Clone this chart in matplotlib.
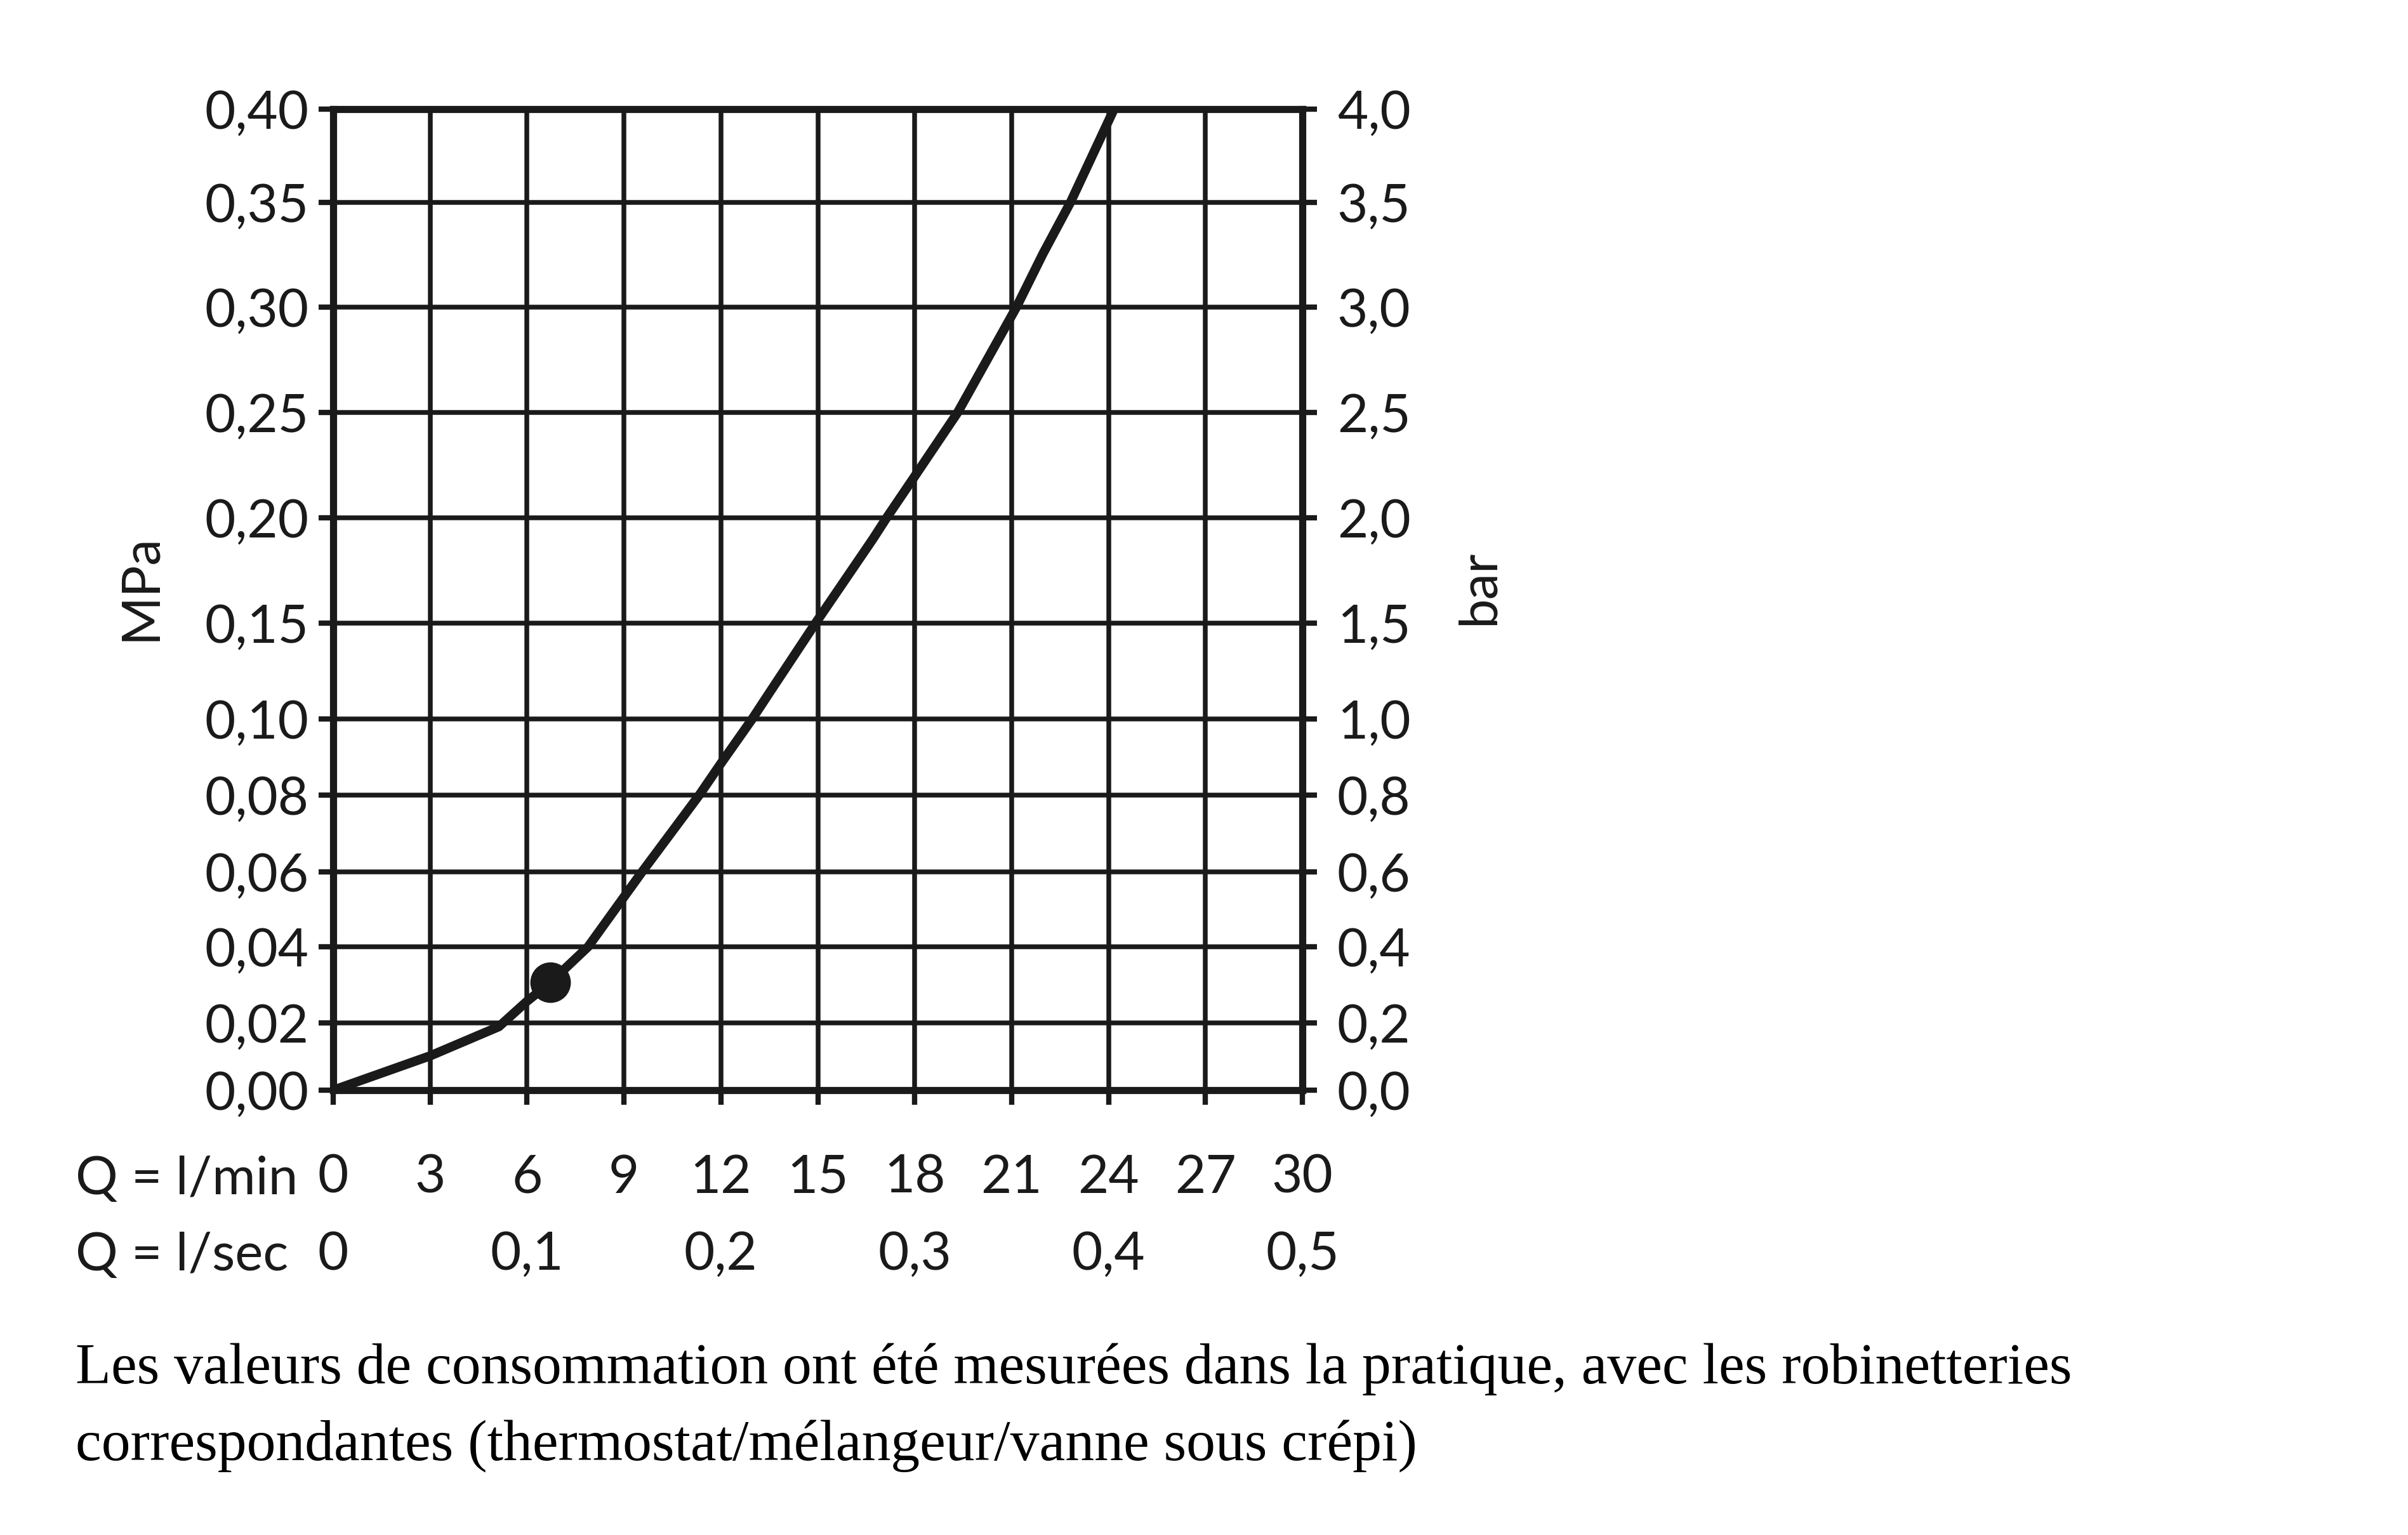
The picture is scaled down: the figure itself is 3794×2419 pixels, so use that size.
import numpy as np
import matplotlib
matplotlib.use("Agg")
import matplotlib.pyplot as plt

# flow (l/min) vs pressure (MPa)
flow_lpm = [0, 3, 5.13, 6.0, 6.72, 7.89, 9.0, 9.56, 10.64, 11.33, 12.0, 12.97, 13.5,
            14.93, 16.7, 17.13, 18.0, 19.33, 21.15, 21.97, 22.82, 24.17]
pressure_mpa = [0, 0.0102, 0.0189, 0.0257, 0.0306, 0.040, 0.0533, 0.060, 0.0722, 0.080, 0.0883, 0.100, 0.1136,
                0.150, 0.1898, 0.200, 0.2197, 0.250, 0.300, 0.3255, 0.350, 0.400]
dot_flow = [6.72]
dot_pressure = [0.0306]

mpa_ticks = [0, 0.02, 0.04, 0.06, 0.08, 0.10, 0.15, 0.20, 0.25, 0.30, 0.35, 0.40]
mpa_labels = ["0,00", "0,02", "0,04", "0,06", "0,08", "0,10", "0,15", "0,20", "0,25", "0,30", "0,35", "0,40"]
bar_ticks = [0, 0.2, 0.4, 0.6, 0.8, 1.0, 1.5, 2.0, 2.5, 3.0, 3.5, 4.0]
bar_labels = ["0,0", "0,2", "0,4", "0,6", "0,8", "1,0", "1,5", "2,0", "2,5", "3,0", "3,5", "4,0"]
lpm_ticks = [0, 3, 6, 9, 12, 15, 18, 21, 24, 27, 30]
lps_ticks = [0, 0.1, 0.2, 0.3, 0.4, 0.5]
lps_labels = ["0", "0,1", "0,2", "0,3", "0,4", "0,5"]

# the printed grid is not evenly spaced: height of each MPa grid line on the sheet
grid_height = [0, 106, 226, 344, 465, 585, 736, 902, 1068, 1234, 1399, 1546]
vals = np.array([-1.0] + mpa_ticks + [2.0])
hts = np.array([-1.0 * 106 / 0.02] + grid_height + [1546 + 1.6 * 147 / 0.05])


def fwd(v):
    return np.interp(np.asarray(v, dtype=float), vals, hts)


def inv(h):
    return np.interp(np.asarray(h, dtype=float), hts, vals)


sans = "Lato"
fs = 60
ink = "#1a1a1a"
W, H = 3794, 2419
fig = plt.figure(figsize=(W / 100, H / 100), dpi=100)
ax = fig.add_axes([525 / W, 1 - 1718 / H, (2052 - 525) / W, (1718 - 172) / H])

ax.set_yscale("function", functions=(fwd, inv))
ax.set_xlim(0, 30)
ax.set_ylim(0, 0.40)

ax.plot(flow_lpm, pressure_mpa, color=ink, lw=10.5, solid_capstyle="round",
        solid_joinstyle="round", zorder=3)
ax.plot(dot_flow, dot_pressure, "o", color=ink, ms=45, zorder=4)

ax.set_yticks(mpa_ticks)
ax.set_yticklabels(mpa_labels, fontfamily=sans, fontsize=fs)
ax.set_xticks(lpm_ticks)
ax.set_xticklabels([str(t) for t in lpm_ticks], fontfamily=sans, fontsize=fs)
ax.grid(True, color=ink, lw=5.4)
ax.tick_params(axis="y", direction="out", length=16.5, width=6, pad=11, colors=ink)
ax.tick_params(axis="x", direction="out", length=16.5, width=6, pad=56, colors=ink)
for s in ax.spines.values():
    s.set_linewidth(8)
    s.set_color(ink)

ax2 = ax.twinx()
ax2.set_yscale("function", functions=(lambda b: fwd(np.asarray(b) / 10), lambda h: inv(h) * 10))
ax2.set_ylim(0, 4.0)
ax2.set_yticks(bar_ticks)
ax2.set_yticklabels(bar_labels, fontfamily=sans, fontsize=fs)
ax2.tick_params(axis="y", direction="out", length=16.5, width=6, pad=23, colors=ink)
for s in ax2.spines.values():
    s.set_linewidth(8)
    s.set_color(ink)

sec = ax.secondary_xaxis((1718 - 1940) / (1718 - 172), functions=(lambda q: q / 60, lambda s: s * 60))
sec.set_xticks(lps_ticks)
sec.set_xticklabels(lps_labels, fontfamily=sans, fontsize=fs)
sec.tick_params(length=0, pad=0, colors=ink)
sec.spines["bottom"].set_visible(False)

fig.text(119 / W, 1 - 1882 / H, "Q = l/min", fontfamily=sans, fontsize=fs, va="baseline", color=ink)
fig.text(119 / W, 1 - 2002 / H, "Q = l/sec", fontfamily=sans, fontsize=fs, va="baseline", color=ink)
fig.text(245 / W, 1 - 926 / H, "MPa", fontfamily=sans, fontsize=fs, rotation=90,
         rotation_mode="anchor", ha="center", va="baseline", color=ink)
fig.text(2354 / W, 1 - 926 / H, "bar", fontfamily=sans, fontsize=fs, rotation=90,
         rotation_mode="anchor", ha="center", va="baseline", color=ink)

serif = "Liberation Serif"
fig.text(119 / W, 1 - 2180 / H,
         "Les valeurs de consommation ont été mesurées dans la pratique, avec les robinetteries",
         fontfamily=serif, fontsize=66, va="baseline")
fig.text(119 / W, 1 - 2301 / H,
         "correspondantes (thermostat/mélangeur/vanne sous crépi)",
         fontfamily=serif, fontsize=66, va="baseline")

fig.savefig("out.png", dpi=100)
